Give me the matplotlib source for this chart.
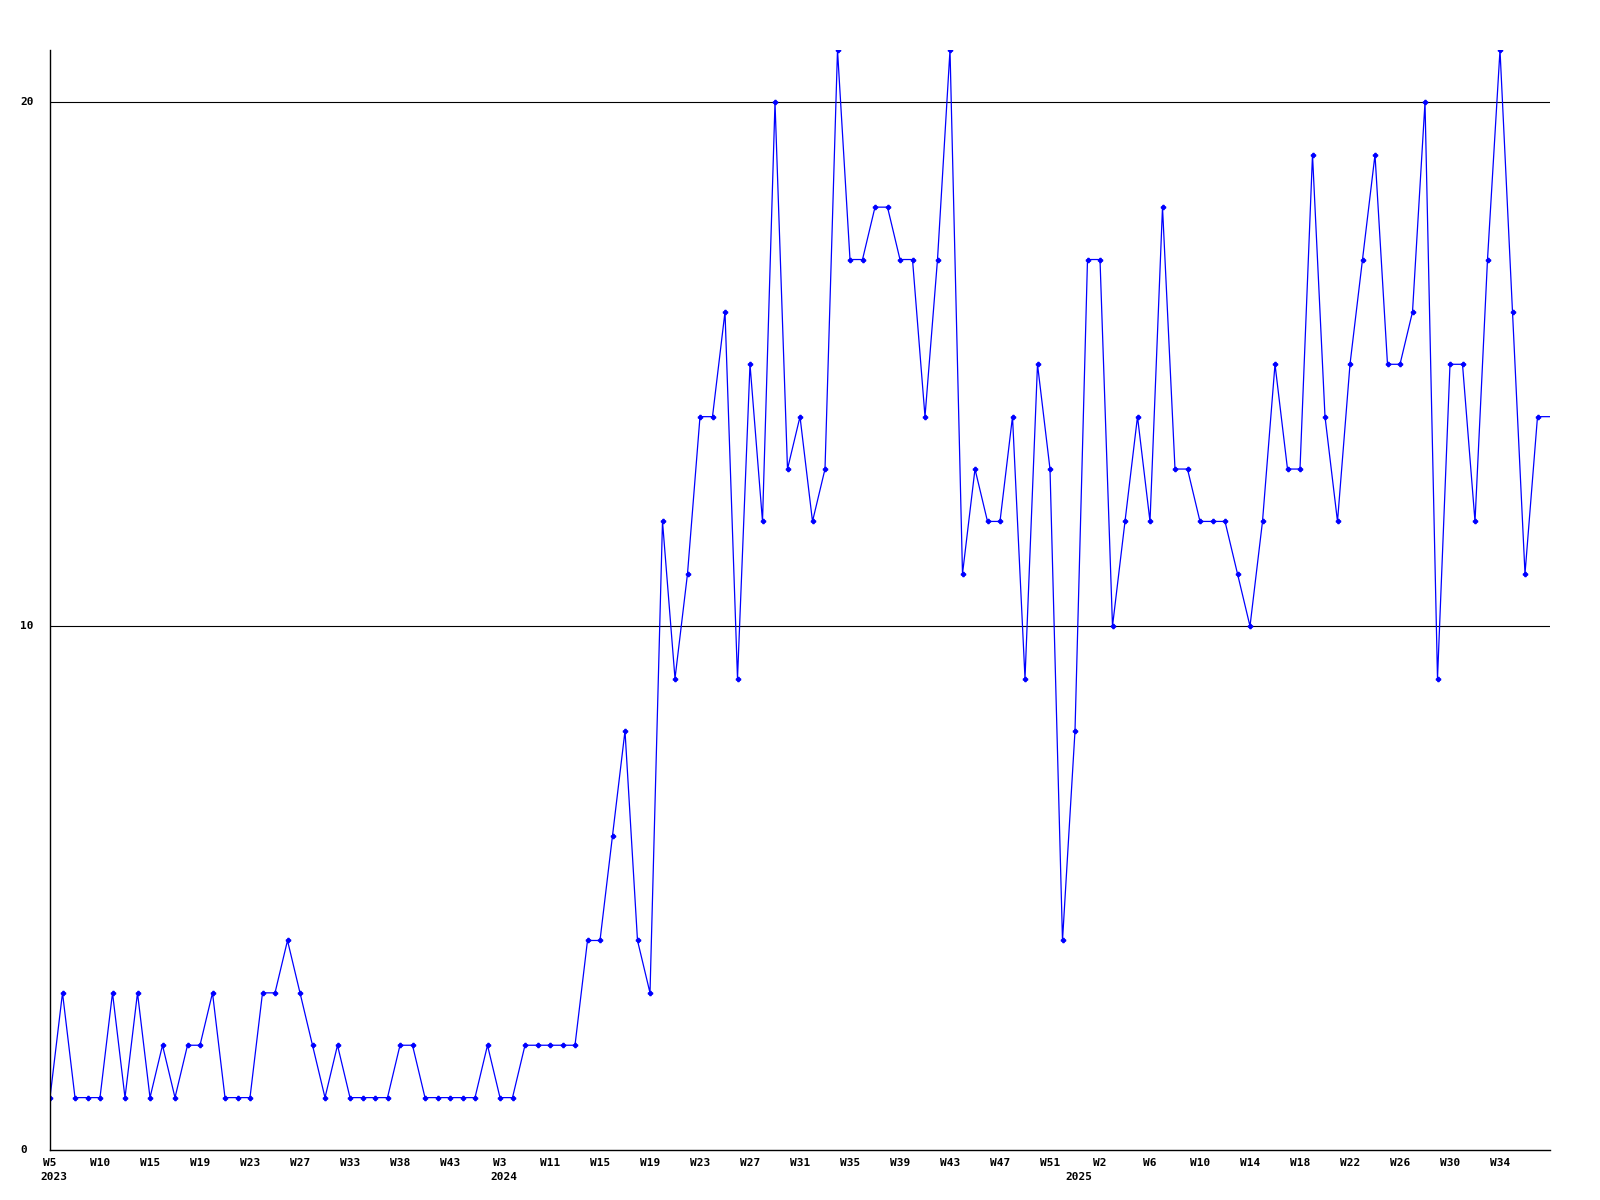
import matplotlib
matplotlib.use("Agg")
import matplotlib.pyplot as plt
import matplotlib.transforms as mtransforms

# weekly counts, one entry per plotted week (last one runs off the right edge)
counts = [1, 3, 1, 1, 1, 3, 1, 3, 1, 2, 1, 2, 2, 3, 1, 1, 1, 3, 3, 4,
          3, 2, 1, 2, 1, 1, 1, 1, 2, 2, 1, 1, 1, 1, 1, 2, 1, 1, 2, 2,
          2, 2, 2, 4, 4, 6, 8, 4, 3, 12, 9, 11, 14, 14, 16, 9, 15, 12, 20, 13,
          14, 12, 13, 21, 17, 17, 18, 18, 17, 17, 14, 17, 21, 11, 13, 12, 12, 14, 9, 15,
          13, 4, 8, 17, 17, 10, 12, 14, 12, 18, 13, 13, 12, 12, 12, 11, 10, 12, 15, 13,
          13, 19, 14, 12, 15, 17, 19, 15, 15, 16, 20, 9, 15, 15, 12, 17, 21, 16, 11, 14,
          14]

# a label every 4th week
week_labels = ["W5", "W10", "W15", "W19", "W23", "W27", "W33", "W38", "W43", "W3",
               "W11", "W15", "W19", "W23", "W27", "W31", "W35", "W39", "W43", "W47",
               "W51", "W2", "W6", "W10", "W14", "W18", "W22", "W26", "W30", "W34"]
years = ["2023", "2024", "2025"]
year_pos = [0, 36, 82]
y_labels = [0, 10, 20]

font = {"family": "DejaVu Sans Mono", "weight": "bold", "size": 8}

fig = plt.figure(figsize=(16, 12), dpi=100)
ax = fig.add_axes([50 / 1600, 50 / 1200, 1500 / 1600, 1100 / 1200])

x = list(range(len(counts)))
ax.plot(x, counts, color="#0000ff", lw=0.9, marker="P", ms=3,
        mec="#0000ff", mfc="#0000ff", markevery=slice(0, len(counts) - 1))

for v in y_labels[1:]:
    ax.axhline(v, color="black", lw=0.8, zorder=0)

ax.set_xlim(0, len(counts) - 1)
ax.set_ylim(0, 21)

for s in ["top", "right"]:
    ax.spines[s].set_visible(False)
for s in ["left", "bottom"]:
    ax.spines[s].set_linewidth(1.0)

ax.set_yticks([])
ax.set_xticks(range(0, 4 * len(week_labels), 4))
ax.set_xticklabels(week_labels, fontdict=font)
ax.tick_params(axis="x", length=0, pad=6)

# y labels sit at the left of the figure, left aligned
ytr = mtransforms.blended_transform_factory(fig.transFigure, ax.transData)
for v in y_labels:
    ax.text(20 / 1600, v, str(v), transform=ytr, ha="left", va="center", fontdict=font)

# year labels under the first week of each year
yrtr = mtransforms.offset_copy(ax.get_xaxis_transform(), fig=fig, x=-10, y=-27, units="dots")
for yr, p in zip(years, year_pos):
    ax.text(p, 0, yr, transform=yrtr, ha="left", va="center", fontdict=font)

fig.savefig("out.png", dpi=100, facecolor="white")
